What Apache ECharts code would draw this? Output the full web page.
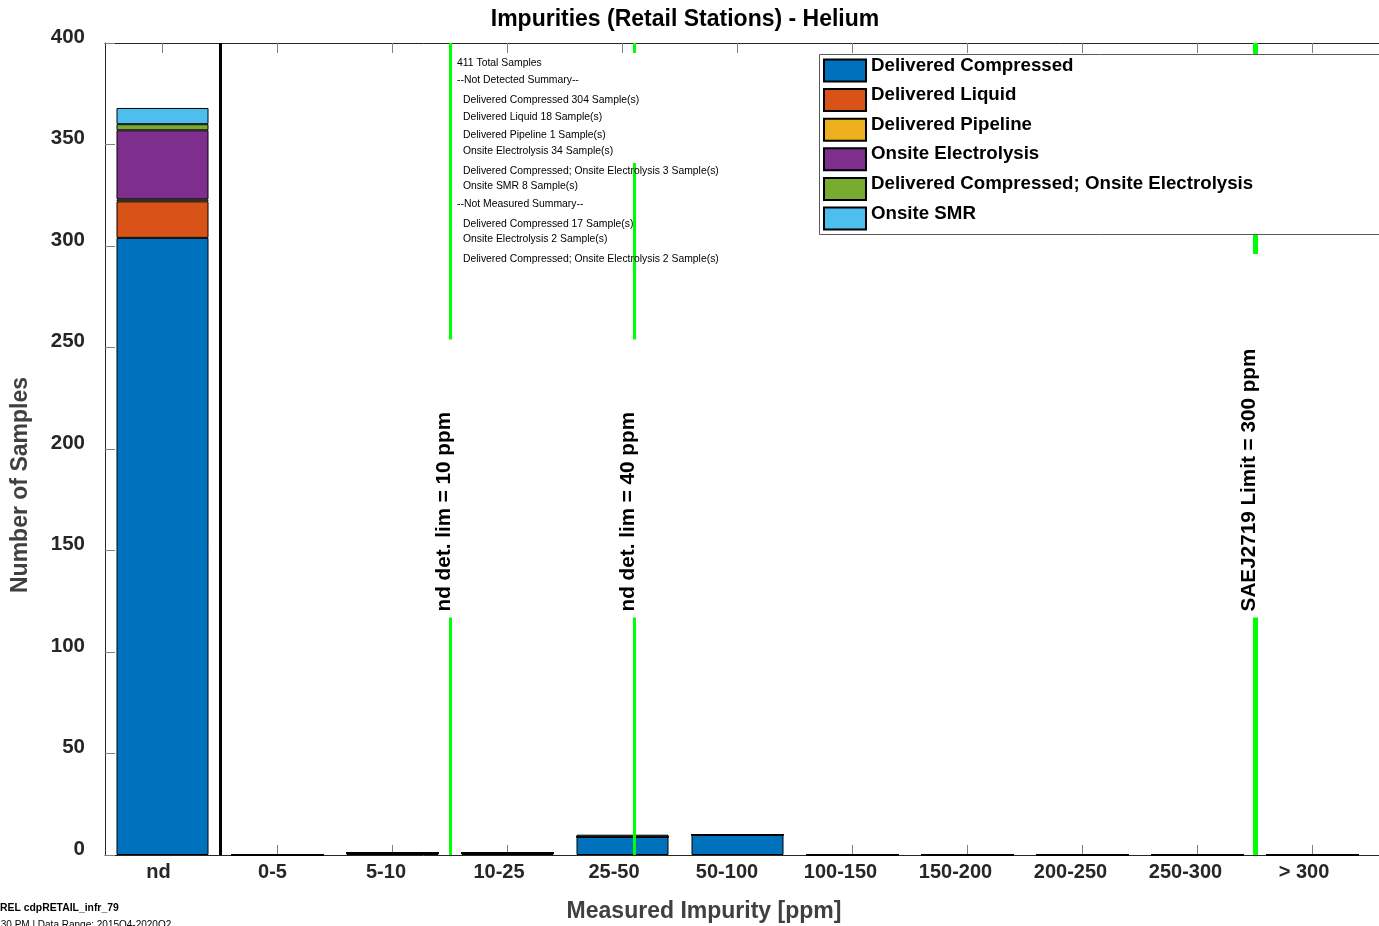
<!DOCTYPE html>
<html>
<head>
<meta charset="utf-8">
<script src="https://cdn.jsdelivr.net/npm/echarts@6/dist/echarts.min.js"></script>
<style>html,body{margin:0;padding:0;background:#fff;}#c{width:1379px;height:926px;}</style>
</head>
<body>
<div id="c"></div>
<script>
// ---- data ----
const categories = ['nd', '0-5', '5-10', '10-25', '25-50', '50-100', '100-150', '150-200', '200-250', '250-300', '> 300'];
const deliveredCompressed = [304, 0, 1, 1, 9, 10, 0, 0, 0, 0, 0];
const deliveredLiquid = [18, 0, 0, 0, 0, 0, 0, 0, 0, 0, 0];
const deliveredPipeline = [1, 0, 0, 0, 0, 0, 0, 0, 0, 0, 0];
const onsiteElectrolysis = [34, 0, 0, 0, 0, 0, 0, 0, 0, 0, 0];
const compressedElectrolysis = [3, 0, 0, 0, 0, 0, 0, 0, 0, 0, 0];
const onsiteSMR = [8, 0, 0, 0, 1, 0, 0, 0, 0, 0, 0];
const seriesNames = ['Delivered Compressed', 'Delivered Liquid', 'Delivered Pipeline', 'Onsite Electrolysis', 'Delivered Compressed; Onsite Electrolysis', 'Onsite SMR'];
const seriesColors = ['#0072BD', '#D95319', '#EDB120', '#7E2F8E', '#77AC30', '#4DBEEE'];
const seriesValues = [deliveredCompressed, deliveredLiquid, deliveredPipeline, onsiteElectrolysis, compressedElectrolysis, onsiteSMR];
const yTicks = [0, 50, 100, 150, 200, 250, 300, 350, 400];
// limit lines: position on bin axis, label, visible y-segments
const limitPositions = [3.5, 5.1, 10.5];
const limitLabels = ['nd det. lim = 10 ppm', 'nd det. lim = 40 ppm', 'SAEJ2719 Limit = 300 ppm'];
const limitSegments = [[[0, 117], [254, 400]], [[0, 117], [254, 400]], [[0, 117], [296, 400]]];
const ndSeparator = 1.5;
const summaryLines = [
  '411 Total Samples',
  '--Not Detected Summary--',
  '  Delivered Compressed 304 Sample(s)',
  '  Delivered Liquid 18 Sample(s)',
  '  Delivered Pipeline 1 Sample(s)',
  '  Onsite Electrolysis 34 Sample(s)',
  '  Delivered Compressed; Onsite Electrolysis 3 Sample(s)',
  '  Onsite SMR 8 Sample(s)',
  '--Not Measured Summary--',
  '  Delivered Compressed 17 Sample(s)',
  '  Onsite Electrolysis 2 Sample(s)',
  '  Delivered Compressed; Onsite Electrolysis 2 Sample(s)'
];
const summaryY = [63, 80, 100, 117, 135, 151, 171, 186, 204, 224, 239, 259];

const FONT = "'Liberation Sans', Arial, Helvetica, sans-serif";
const TXT = '#262626';
const binTicks = categories.map((c, i) => i + 1);

// label shift (the original renders tick labels slightly left of their ticks, proportional to width)
const XLABEL_FONT = 'bold 20px ' + FONT;
const mctx = document.createElement('canvas').getContext('2d');
mctx.font = XLABEL_FONT;
const xLabelRich = {};
categories.forEach((c, i) => {
  const w = mctx.measureText(c).width;
  xLabelRich['c' + i] = {fontFamily: FONT, fontWeight: 'bold', fontSize: 20, color: TXT,
    padding: [0, Math.round(w / 3), 0, 0]};
});

const chart = echarts.init(document.getElementById('c'), null, {renderer: 'canvas'});

const barSeries = seriesNames.map((name, k) => ({
  name: name,
  type: 'bar',
  stack: 'all',
  xAxisIndex: 2,
  yAxisIndex: 1,
  barWidth: 92,
  data: seriesValues[k],
  itemStyle: {color: seriesColors[k], borderColor: '#000', borderWidth: 1},
  emphasis: {disabled: true},
  z: 2
}));

const limitMarkData = [];
limitPositions.forEach((p, i) => {
  limitSegments[i].forEach(seg => {
    limitMarkData.push([
      {coord: [p, seg[0]], lineStyle: {width: i === 2 ? 5 : 3}},
      {coord: [p, seg[1]]}
    ]);
  });
});
limitMarkData.push([
  {coord: [ndSeparator, 0], lineStyle: {color: '#000', width: 3}},
  {coord: [ndSeparator, 400]}
]);

const lineHolder = {
  name: 'limits',
  type: 'line',
  xAxisIndex: 0,
  yAxisIndex: 0,
  data: [],
  silent: true,
  markLine: {
    silent: true,
    symbol: ['none', 'none'],
    animation: false,
    label: {show: false},
    lineStyle: {color: '#00FF00', type: 'solid', width: 3},
    emphasis: {disabled: true},
    data: limitMarkData
  },
  z: 3
};

const XMAX = 0.5 + 1274 / 115;
const axisCommon = {
  type: 'value', min: 0.5, max: XMAX, gridIndex: 0,
  splitLine: {show: false},
  axisLine: {show: true, onZero: false, lineStyle: {color: TXT, width: 1}},
  axisTick: {show: true, inside: true, length: 10, customValues: binTicks, lineStyle: {color: '#808080'}}
};

chart.setOption({
  animation: false,
  backgroundColor: '#fff',
  title: {
    text: 'Impurities (Retail Stations) - Helium',
    left: 680, top: 3, textAlign: 'center',
    textStyle: {fontFamily: FONT, fontWeight: 'bold', fontSize: 23, color: '#000'}
  },
  grid: [
    {left: 105, right: 0, top: 43, bottom: 71, containLabel: false},
    {left: 105, right: 9, top: 43, bottom: 71, containLabel: false}
  ],
  legend: {
    data: seriesNames,
    orient: 'vertical',
    left: 823, top: 56,
    itemWidth: 42, itemHeight: 22, itemGap: 0.6,
    icon: 'rect',
    padding: 0,
    selectedMode: false,
    z: 10,
    formatter: name => '{t|' + name + '}',
    textStyle: {
      fontFamily: FONT, fontWeight: 'bold', fontSize: 18.7, color: '#000',
      rich: {t: {fontFamily: FONT, fontWeight: 'bold', fontSize: 18.7, color: '#000', lineHeight: 14, padding: [0, 0, 10, 0]}}
    }
  },
  xAxis: [
    Object.assign({}, axisCommon, {
      position: 'bottom',
      axisLabel: {
        customValues: binTicks,
        formatter: v => { const i = Math.round(v) - 1; return '{c' + i + '|' + categories[i] + '}'; },
        rich: xLabelRich,
        fontFamily: FONT, fontWeight: 'bold', fontSize: 20, color: TXT, margin: 7
      }
    }),
    Object.assign({}, axisCommon, {position: 'top', axisLabel: {show: false}}),
    {type: 'category', gridIndex: 1, data: categories, boundaryGap: true,
      axisLine: {show: false}, axisTick: {show: false}, axisLabel: {show: false}, splitLine: {show: false}}
  ],
  yAxis: [{
    type: 'value', min: 0, max: 400, interval: 50, gridIndex: 0,
    splitLine: {show: false},
    axisLine: {show: true, lineStyle: {color: TXT}},
    axisTick: {show: true, inside: true, length: 10, lineStyle: {color: '#808080'}},
    axisLabel: {fontFamily: FONT, fontWeight: 'bold', fontSize: 20.5, color: TXT, margin: 20,
      verticalAlign: 'bottom', lineHeight: 12,
      formatter: v => yTicks.indexOf(v) >= 0 ? String(v) : ''}
  }, {
    type: 'value', min: 0, max: 400, interval: 50, gridIndex: 1,
    splitLine: {show: false}, axisLine: {show: false}, axisTick: {show: false}, axisLabel: {show: false}
  }],
  series: barSeries.concat([lineHolder])
});

// graphic overlays positioned through the chart's own scales
const px = (x, y) => chart.convertToPixel({xAxisIndex: 0, yAxisIndex: 0}, [x, y]);
const graphics = [];
// legend box
graphics.push({type: 'rect', z: 6, shape: {x: 819.5, y: 54.5, width: 700, height: 180},
  style: {fill: '#fff', stroke: '#5a5a5a', lineWidth: 1}});
// white background for detected summary
const sx = px(limitPositions[0], 0)[0];
graphics.push({type: 'rect', z: 6, shape: {x: sx + 5, y: 53, width: 190, height: 110},
  style: {fill: '#fff'}});
summaryLines.forEach((t, i) => {
  const indent = t.startsWith('  ');
  graphics.push({type: 'text', z: 7, x: sx + (indent ? 13 : 7), y: summaryY[i],
    style: {text: t.trim(), font: '10.4px ' + FONT, fill: '#000', textAlign: 'left', textVerticalAlign: 'middle'}});
});
// rotated limit labels
limitPositions.forEach((p, i) => {
  const pt = px(p, 120);
  graphics.push({type: 'text', z: 7, x: pt[0] - 6, y: pt[1], rotation: Math.PI / 2,
    style: {text: limitLabels[i], font: 'bold 20.7px ' + FONT, fill: '#000', textAlign: 'left', textVerticalAlign: 'middle'}});
});
// axis names
graphics.push({type: 'text', z: 7, x: 704, y: 912,
  style: {text: 'Measured Impurity [ppm]', font: 'bold 23px ' + FONT, fill: '#404040', textAlign: 'center', textVerticalAlign: 'middle'}});
graphics.push({type: 'text', z: 7, x: 21, y: 485, rotation: Math.PI / 2,
  style: {text: 'Number of Samples', font: 'bold 23px ' + FONT, fill: '#404040', textAlign: 'center', textVerticalAlign: 'middle'}});
// footer
graphics.push({type: 'text', z: 7, x: 0, y: 908,
  style: {text: 'REL cdpRETAIL_infr_79', font: 'bold 10.4px ' + FONT, fill: '#000', textAlign: 'left', textVerticalAlign: 'middle'}});
graphics.push({type: 'text', z: 7, x: -2, y: 925,
  style: {text: ':30 PM | Data Range: 2015Q4-2020Q2', font: '10px ' + FONT, fill: '#000', textAlign: 'left', textVerticalAlign: 'middle'}});

chart.setOption({graphic: {elements: graphics}});
</script>
</body>
</html>
